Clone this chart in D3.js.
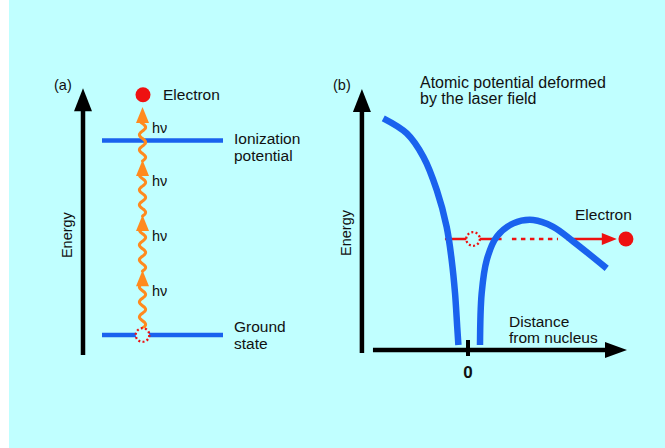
<!DOCTYPE html>
<html>
<head>
<meta charset="utf-8">
<script src="https://cdn.jsdelivr.net/npm/d3@7"></script>
<style>
  html, body { margin: 0; padding: 0; background: #ffffff; }
  svg { display: block; }
  text { font-family: "Liberation Sans", Arial, Helvetica, sans-serif; fill: #111; }
</style>
</head>
<body>
<svg id="chart" width="665" height="448"></svg>
<script>
// ---- Panel (a): energy levels, in units of one photon energy hν ----
const levelNames = ["Ground state", "Ionization potential"];
const levelEnergies = [0, 3.6];
const levelLabelLines = [["Ground", "state"], ["Ionization", "potential"]];
const photonTips = [1.2, 2.22, 3.24, 4.22];     // energy reached by each absorbed photon
const photonLabel = "hν";
const freeElectronEnergy = 4.45;

// ---- Panel (b): atomic potential deformed by the laser field ----
// (distance from nucleus, energy) in arbitrary units
const leftBranchX = [-3.53, -2.55, -1.86, -1.30, -0.89, -0.68, -0.54, -0.45, -0.40];
const leftBranchY = [8.91, 8.33, 7.43, 6.15, 4.74, 3.46, 2.18, 0.90, 0.19];
const rightBranchX = [0.50, 0.57, 0.78, 1.20, 1.89, 2.72, 3.55, 4.39, 5.78];
const rightBranchY = [0.19, 2.18, 3.46, 4.36, 4.87, 5.00, 4.74, 4.17, 3.14];
const electronLevel = 4.27;
const boundElectronX = 0.21;
const escapeSolidA = [-0.96, 1.40];   // inside the well
const escapeTunnel = [1.83, 3.75];    // through the barrier (dashed)
const escapeSolidB = [4.10, 5.62];    // outside the barrier
const escapeArrowTip = 6.2;
const escapedElectronX = 6.58;
const xTickValues = [0];

const BLUE = "#1a62ee", ORANGE = "#ff8a1e", RED = "#ee1111", BG = "#c0ffff";
const FS = 15.5;

const svg = d3.select("#chart");
svg.append("rect").attr("x", 9).attr("y", 0).attr("width", 656).attr("height", 448).attr("fill", BG);

function arrowHead(g, x, y, dir, len, wid, color) {
  // dir: "up" or "right"; (x,y) is the tip
  const pts = dir === "up"
    ? [[x, y], [x - wid / 2, y + len], [x + wid / 2, y + len]]
    : [[x, y], [x - len, y - wid / 2], [x - len, y + wid / 2]];
  g.append("path").attr("d", d3.line()(pts) + "Z").attr("fill", color);
}

function dottedCircle(g, cx, cy) {
  g.append("circle").attr("cx", cx).attr("cy", cy).attr("r", 6.8)
    .attr("fill", BG).attr("stroke", RED).attr("stroke-width", 2.3)
    .attr("stroke-dasharray", "2 2.3");
}

// ================= Panel (a) =================
const ga = svg.append("g");
const yA = d3.scaleLinear().domain([0, 4.5]).range([335, 92]);
const axisAX = 83;

ga.append("text").attr("x", 54).attr("y", 90).attr("font-size", 14.5).text("(a)");
// energy axis
ga.append("line").attr("x1", axisAX).attr("x2", axisAX)
  .attr("y1", yA(-0.37)).attr("y2", yA(4.57) + 20)
  .attr("stroke", "#000").attr("stroke-width", 4.5);
arrowHead(ga, axisAX, yA(4.57), "up", 23, 18, "#000");
ga.append("text").attr("transform", `translate(${axisAX - 11},${yA(1.85)}) rotate(-90)`)
  .attr("text-anchor", "middle").attr("font-size", 14.5).text("Energy");

// levels
levelEnergies.forEach((e, i) => {
  ga.append("line").attr("x1", 102).attr("x2", 223)
    .attr("y1", yA(e)).attr("y2", yA(e))
    .attr("stroke", BLUE).attr("stroke-width", 4.5);
  levelLabelLines[i].forEach((t, k) => {
    ga.append("text").attr("x", 234).attr("y", yA(e) + (i === 0 ? -3 : 3) + k * 17)
      .attr("font-size", FS).text(t);
  });
});

// wavy photon path
const photonX = 142.5;
function wave(yStart, yEnd) {
  const pts = [];
  const n = Math.max(2, Math.ceil(yStart - yEnd));
  for (let i = 0; i <= n; i++) {
    const y = yStart + (yEnd - yStart) * i / n;
    pts.push([photonX + 3.2 * Math.sin(2 * Math.PI * (yStart - y) / 15), y]);
  }
  return d3.line().curve(d3.curveBasis)(pts);
}
const headLen = 16;
let from = yA(0) - 6.8;
photonTips.forEach(tip => {
  const tipY = yA(tip);
  ga.append("path").attr("d", wave(from, tipY + headLen - 1))
    .attr("fill", "none").attr("stroke", ORANGE).attr("stroke-width", 3)
    .attr("stroke-linecap", "round");
  arrowHead(ga, photonX, tipY, "up", headLen, 13, ORANGE);
  ga.append("text").attr("x", 152).attr("y", tipY + 26).attr("font-size", 14.5).text(photonLabel);
  from = tipY + 1;
});
dottedCircle(ga, photonX, yA(0));
ga.append("circle").attr("cx", 143).attr("cy", yA(freeElectronEnergy)).attr("r", 7.5).attr("fill", RED);
ga.append("text").attr("x", 163).attr("y", yA(freeElectronEnergy) + 5).attr("font-size", FS).text("Electron");

// ================= Panel (b) =================
const gb = svg.append("g");
const xB = d3.scaleLinear().domain([0, 1]).range([468, 492]);
const yB = d3.scaleLinear().domain([0, 1]).range([350, 324]);

gb.append("text").attr("x", 333).attr("y", 90).attr("font-size", 14.5).text("(b)");
gb.append("text").attr("x", 420).attr("y", 88).attr("font-size", 16).text("Atomic potential deformed");
gb.append("text").attr("x", 420).attr("y", 104).attr("font-size", 16).text("by the laser field");

// axes
const yAxisX = xB(-4.42);
gb.append("line").attr("x1", yAxisX).attr("x2", yAxisX)
  .attr("y1", yB(-0.12)).attr("y2", yB(10.04) + 20)
  .attr("stroke", "#000").attr("stroke-width", 4.5);
arrowHead(gb, yAxisX, yB(10.04), "up", 23, 18, "#000");
gb.append("text").attr("transform", `translate(${yAxisX - 11},${yB(4.5)}) rotate(-90)`)
  .attr("text-anchor", "middle").attr("font-size", 14.5).text("Energy");

gb.append("line").attr("x1", xB(-3.96)).attr("x2", xB(6.625) - 20)
  .attr("y1", yB(0)).attr("y2", yB(0))
  .attr("stroke", "#000").attr("stroke-width", 4.5);
arrowHead(gb, xB(6.625), yB(0), "right", 22, 16, "#000");
xTickValues.forEach(v => {
  gb.append("line").attr("x1", xB(v)).attr("x2", xB(v))
    .attr("y1", yB(0) - 10).attr("y2", yB(0) + 6)
    .attr("stroke", "#000").attr("stroke-width", 4);
  gb.append("text").attr("x", xB(v)).attr("y", yB(0) + 28)
    .attr("text-anchor", "middle").attr("font-size", 17).attr("font-weight", "bold").text(v);
});
gb.append("text").attr("x", 509).attr("y", 327).attr("font-size", FS).text("Distance");
gb.append("text").attr("x", 509).attr("y", 343).attr("font-size", FS).text("from nucleus");

// electron escape path
const ly = yB(electronLevel);
[escapeSolidA, escapeSolidB].forEach(seg => {
  gb.append("line").attr("x1", xB(seg[0])).attr("x2", xB(seg[1]))
    .attr("y1", ly).attr("y2", ly).attr("stroke", RED).attr("stroke-width", 2.5);
});
gb.append("line").attr("x1", xB(escapeTunnel[0])).attr("x2", xB(escapeTunnel[1]))
  .attr("y1", ly).attr("y2", ly).attr("stroke", RED).attr("stroke-width", 2.5)
  .attr("stroke-dasharray", "4.5 4.5");
arrowHead(gb, xB(escapeArrowTip), ly, "right", 15, 12, RED);
dottedCircle(gb, xB(boundElectronX), ly);
gb.append("circle").attr("cx", xB(escapedElectronX)).attr("cy", ly).attr("r", 7.5).attr("fill", RED);
gb.append("text").attr("x", 575).attr("y", 220).attr("font-size", FS).text("Electron");

// potential curve (drawn over the escape path)
const curve = d3.line().x(d => xB(d[0])).y(d => yB(d[1])).curve(d3.curveCatmullRom.alpha(0.5));
[[leftBranchX, leftBranchY], [rightBranchX, rightBranchY]].forEach(([xs, ys]) => {
  gb.append("path").attr("d", curve(xs.map((x, i) => [x, ys[i]])))
    .attr("fill", "none").attr("stroke", BLUE).attr("stroke-width", 6.5);
});
</script>
</body>
</html>
